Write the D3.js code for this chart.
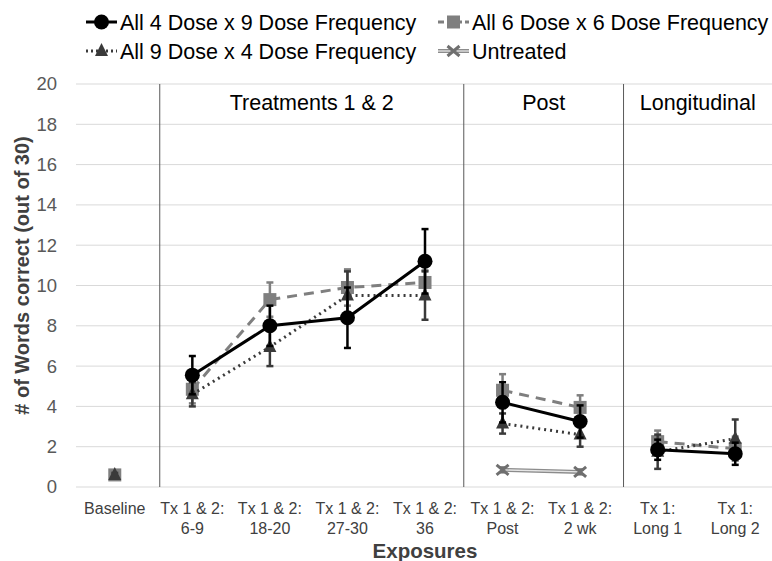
<!DOCTYPE html>
<html><head><meta charset="utf-8">
<script src="https://cdn.jsdelivr.net/npm/d3@7"></script>
<style>body{margin:0;background:#fff}svg{display:block;font-family:"Liberation Sans",Arial,sans-serif}</style>
</head><body><svg id="c" width="772" height="561"></svg>
<script>
const categories = ["Baseline","Tx 1 & 2: 6-9","Tx 1 & 2: 18-20","Tx 1 & 2: 27-30","Tx 1 & 2: 36","Tx 1 & 2: Post","Tx 1 & 2: 2 wk","Tx 1: Long 1","Tx 1: Long 2"];
const tickLines = [["Baseline"],["Tx 1 & 2:","6-9"],["Tx 1 & 2:","18-20"],["Tx 1 & 2:","27-30"],["Tx 1 & 2:","36"],["Tx 1 & 2:","Post"],["Tx 1 & 2:","2 wk"],["Tx 1:","Long 1"],["Tx 1:","Long 2"]];
const phaseOf = [0,1,1,1,1,2,2,3,3];
const s4x9    = [null,5.55,8.0,8.4,11.2,4.2,3.25,1.85,1.65];
const s4x9Err = [null,0.95,1.0,1.5,1.6,1.0,0.8,0.5,0.55];
const s6x6    = [0.6,4.85,9.3,9.9,10.15,4.8,3.95,2.25,1.9];
const s6x6Err = [0.1,0.7,0.85,0.9,0.6,0.8,0.6,0.55,0.6];
const s9x4    = [0.6,4.6,6.95,9.5,9.5,3.15,2.6,1.75,2.4];
const s9x4Err = [0.1,0.6,0.95,1.2,1.2,0.5,0.6,0.85,0.95];
const untreated    = [null,null,null,null,null,0.85,0.75,null,null];
const untreatedErr = [null,null,null,null,null,0.12,0.12,null,null];
const seriesNames = ["All 4 Dose x 9 Dose Frequency","All 6 Dose x 6 Dose Frequency","All 9 Dose x 4 Dose Frequency","Untreated"];
const yTicks = [0,2,4,6,8,10,12,14,16,18,20];
const sections = ["Treatments 1 & 2","Post","Longitudinal"];
const dividerIdx = [0.58,4.5,6.56];

(function(){
const svg = d3.select("#c");
const W = 772;
const pL = 76, pR = 774, pT = 84, pB = 487;
const x = d3.scaleBand().domain(categories).range([pL,pR]).padding(0);
const cx = c => x(c) + x.bandwidth()/2;
const xi = d3.scaleLinear().domain([0,categories.length-1]).range([cx(categories[0]), cx(categories[categories.length-1])]);
const y = d3.scaleLinear().domain([0,20]).range([pB,pT]);

svg.append("g").selectAll("line").data(yTicks).join("line")
  .attr("x1",pL).attr("x2",W).attr("y1",d=>y(d)).attr("y2",d=>y(d))
  .attr("stroke","#d9d9d9").attr("stroke-width",1);

svg.append("g").selectAll("text").data(yTicks).join("text")
  .attr("x",57).attr("y",d=>y(d)).attr("dy","0.35em").attr("text-anchor","end")
  .attr("font-size",18.5).attr("fill","#595959").text(d=>d);

const divX = dividerIdx.map(d=>xi(d));
svg.append("g").selectAll("line").data(divX).join("line")
  .attr("x1",d=>d).attr("x2",d=>d).attr("y1",y(20)).attr("y2",y(0))
  .attr("stroke","#595959").attr("stroke-width",1);

const secBounds = [[divX[0],divX[1]],[divX[1],divX[2]],[divX[2],W]];
svg.append("g").selectAll("text").data(sections).join("text")
  .attr("x",(d,i)=>(secBounds[i][0]+secBounds[i][1])/2).attr("y",110)
  .attr("text-anchor","middle").attr("font-size",21.5).attr("fill","#000").text(d=>d);

const xl = svg.append("g");
tickLines.forEach((lines,i)=>{
  lines.forEach((t,j)=>{
    xl.append("text").attr("x",cx(categories[i])).attr("y",514+j*19.5).attr("text-anchor","middle")
      .attr("font-size",16).attr("fill","#404040").text(t);
  });
});
svg.append("text").attr("x",425).attr("y",558).attr("text-anchor","middle")
  .attr("font-size",20.5).attr("font-weight","bold").attr("fill","#404040").text("Exposures");

svg.append("text").attr("transform",`translate(29,${(pT+pB)/2-10}) rotate(-90)`)
  .attr("text-anchor","middle").attr("font-size",20).attr("font-weight","bold")
  .attr("fill","#404040").text("# of Words correct (out of 30)");

function marker(g, type, px, py, color){
  if(type==="circle") g.append("circle").attr("cx",px).attr("cy",py).attr("r",7.5).attr("fill",color);
  else if(type==="square") g.append("rect").attr("x",px-6.5).attr("y",py-6.5).attr("width",13).attr("height",13).attr("fill",color);
  else if(type==="triangle") g.append("path").attr("d",`M${px},${py-8}L${px+6.5},${py+5}L${px-6.5},${py+5}Z`).attr("fill",color);
  else if(type==="x") g.append("path").attr("d",`M${px-6},${py-5}L${px+6},${py+5}M${px-6},${py+5}L${px+6},${py-5}`).attr("stroke",color).attr("stroke-width",3);
}

const series = [
  {vals:s6x6, err:s6x6Err, color:"#7f7f7f", dash:"10,7", width:3, marker:"square"},
  {vals:s9x4, err:s9x4Err, color:"#3a3a3a", dash:"2,4", width:3, marker:"triangle"},
  {vals:s4x9, err:s4x9Err, color:"#000000", dash:null, width:3, marker:"circle"},
  {vals:untreated, err:untreatedErr, color:"#6f6f6f", dash:null, width:4, marker:"x", dbl:true}
];
const line = d3.line().defined(d=>d.v!=null).x(d=>cx(categories[d.i])).y(d=>y(d.v));
series.forEach(s=>{
  const g = svg.append("g");
  const pts = s.vals.map((v,i)=>({v,i,e:s.err[i]}));
  const groups = d3.groups(pts, d=>phaseOf[d.i]).map(d=>d[1]).filter(a=>a.filter(d=>d.v!=null).length>1);
  groups.forEach(gp=>{
    const p = g.append("path").datum(gp).attr("d",line).attr("fill","none")
      .attr("stroke",s.dbl?"#8c8c8c":s.color).attr("stroke-width",s.width);
    if(s.dash) p.attr("stroke-dasharray",s.dash);
    if(s.dbl) g.append("path").datum(gp).attr("d",line).attr("fill","none").attr("stroke","#e6e6e6").attr("stroke-width",1.3);
  });
  pts.filter(d=>d.v!=null).forEach(d=>{
    const px = cx(categories[d.i]);
    if(d.e){
      g.append("line").attr("x1",px).attr("x2",px).attr("y1",y(d.v-d.e)).attr("y2",y(d.v+d.e))
        .attr("stroke",s.color).attr("stroke-width",2.5);
      [d.v-d.e,d.v+d.e].forEach(e=>g.append("line").attr("x1",px-3.5).attr("x2",px+3.5).attr("y1",y(e)).attr("y2",y(e))
        .attr("stroke",s.color).attr("stroke-width",2.5));
    }
    marker(g,s.marker,px,y(d.v),s.color);
  });
});

const legendPos = [[86,22],[438,22],[86,51],[438,51]];
const legendOrder = [2,0,1,3];
seriesNames.forEach((name,k)=>{
  const s = series[legendOrder[k]];
  const [lx,ly] = legendPos[k];
  const g = svg.append("g");
  const l = g.append("line").attr("x1",lx).attr("x2",lx+31).attr("y1",ly).attr("y2",ly)
    .attr("stroke",s.dbl?"#8c8c8c":s.color).attr("stroke-width",s.width);
  if(s.dash) l.attr("stroke-dasharray", s.marker==="triangle" ? "2,3" : "6,3");
  if(s.dbl) g.append("line").attr("x1",lx).attr("x2",lx+31).attr("y1",ly).attr("y2",ly).attr("stroke","#e6e6e6").attr("stroke-width",1.3);
  marker(g,s.marker,lx+15.5,ly,s.color);
  g.append("text").attr("x",lx+34).attr("y",ly).attr("dy","0.35em").attr("font-size",21.5)
    .attr("fill","#000").text(name);
});
})();
</script></body></html>
